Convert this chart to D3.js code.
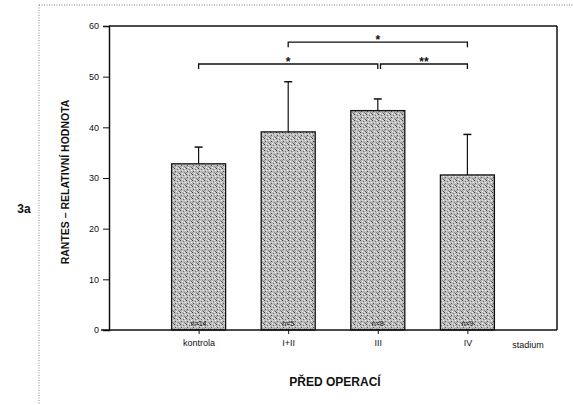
<!DOCTYPE html>
<html><head><meta charset="utf-8">
<script src="https://cdn.jsdelivr.net/npm/d3@7/dist/d3.min.js"></script>
<style>
html,body{margin:0;padding:0;background:#fff;}
svg{display:block;}
text{font-family:"Liberation Sans",Arial,sans-serif;fill:#111;font-stretch:condensed;}
</style></head>
<body><svg id="c" width="573" height="405"></svg>
<script>
const categories = ["kontrola", "I+II", "III", "IV"];
const means = [32.8, 39.1, 43.3, 30.6];
const errTop = [36.1, 49.0, 45.6, 38.6];
const nLabels = ["n=14", "n=5", "n=8", "n=9"];
const yTicks = [0, 10, 20, 30, 40, 50, 60];
const brackets = [
  {from: 1, to: 3, level: 52.5, label: "*"},
  {from: 2, to: 4, level: 56.8, label: "*"},
  {from: 3.03, to: 4, level: 52.5, label: "**"}
];

const FONT = "Liberation Sans, Arial, sans-serif";
const svg = d3.select("#c");
const L = 109, R = 557, T = 26, B = 330;
const x = d3.scaleLinear().domain([0, 5]).range([L, R]);
const y = d3.scaleLinear().domain([0, 60]).range([B, T]);
const bw = 54;

// dotted outer border
svg.append("line").attr("x1", 39).attr("x2", 573).attr("y1", 5).attr("y2", 5)
  .attr("stroke", "#777").attr("stroke-width", 1).attr("stroke-dasharray", "1,1.5");
svg.append("line").attr("x1", 39).attr("x2", 39).attr("y1", 5).attr("y2", 405)
  .attr("stroke", "#888").attr("stroke-width", 1).attr("stroke-dasharray", "1,1.5");

// texture pattern
const defs = svg.append("defs");
const pat = defs.append("pattern").attr("id", "stip").attr("patternUnits", "userSpaceOnUse")
  .attr("width", 6).attr("height", 6);
pat.append("rect").attr("width", 6).attr("height", 6).attr("fill", "#bcbcbc");
const specks = [[0,0,"#444"],[3,1,"#777"],[1,3,"#555"],[4,4,"#888"],[2,5,"#f2f2f2"],[5,2,"#f2f2f2"],[0,4,"#999"],[4,0,"#eee"],[2,2,"#ddd"],[5,5,"#666"]];
specks.forEach(s => pat.append("rect").attr("x", s[0]).attr("y", s[1]).attr("width", 1).attr("height", 1).attr("fill", s[2]));

// frame top & right
svg.append("line").attr("x1", L).attr("x2", R).attr("y1", T).attr("y2", T).attr("stroke", "#111").attr("stroke-width", 1.5);
svg.append("line").attr("x1", R).attr("x2", R).attr("y1", T).attr("y2", B).attr("stroke", "#111").attr("stroke-width", 1.5);

// bars
const g = svg.append("g");
categories.forEach((c, i) => {
  const cx = x(i + 1);
  g.append("rect").attr("x", cx - bw / 2).attr("y", y(means[i])).attr("width", bw)
    .attr("height", y(0) - y(means[i])).attr("fill", "url(#stip)").attr("stroke", "#111").attr("stroke-width", 1.3);
  g.append("line").attr("x1", cx).attr("x2", cx).attr("y1", y(means[i])).attr("y2", y(errTop[i]))
    .attr("stroke", "#111").attr("stroke-width", 1.2);
  g.append("line").attr("x1", cx - 4).attr("x2", cx + 4).attr("y1", y(errTop[i])).attr("y2", y(errTop[i]))
    .attr("stroke", "#111").attr("stroke-width", 1.5);
  g.append("text").attr("x", cx).attr("y", B - 4).attr("text-anchor", "middle")
    .attr("font-size", 7).attr("font-family", FONT).text(nLabels[i]);
});

// y axis
const yAxis = d3.axisLeft(y).tickValues(yTicks).tickSize(6).tickPadding(4).tickFormat(d3.format("d"));
const ya = svg.append("g").attr("transform", `translate(${L},0)`).call(yAxis);
ya.select(".domain").attr("stroke", "#111").attr("stroke-width", 1.5);
ya.selectAll(".tick line").attr("stroke", "#111");
ya.selectAll(".tick text").attr("font-size", 9).attr("font-family", FONT);

// x axis
const xAxis = d3.axisBottom(x).tickValues([1, 2, 3, 4]).tickSize(4).tickPadding(6)
  .tickFormat(d => categories[d - 1]);
const xa = svg.append("g").attr("transform", `translate(0,${B})`).call(xAxis);
xa.select(".domain").remove();
svg.append("line").attr("x1", L - 8).attr("x2", R).attr("y1", B).attr("y2", B).attr("stroke", "#111").attr("stroke-width", 1.5);
xa.selectAll(".tick line").attr("stroke", "#111");
xa.selectAll(".tick text").attr("font-size", 9).attr("font-family", FONT);

svg.append("text").attr("x", 528).attr("y", B + 18).attr("text-anchor", "middle").attr("font-size", 9)
  .attr("font-family", FONT).text("stadium");

// axis titles
svg.append("text").attr("x", 335).attr("y", 386).attr("text-anchor", "middle").attr("font-size", 12)
  .attr("font-family", FONT).attr("font-weight", "bold").text("PŘED OPERACÍ");
svg.append("text").attr("transform", `translate(69,182) rotate(-90)`).attr("text-anchor", "middle")
  .attr("font-size", 10.5).attr("font-family", FONT).attr("font-weight", "bold").text("RANTES – RELATIVNÍ HODNOTA");
svg.append("text").attr("x", 24).attr("y", 213).attr("text-anchor", "middle").attr("font-size", 12)
  .attr("font-family", FONT).attr("font-weight", "bold").text("3a");

// significance brackets
brackets.forEach(b => {
  const x1 = x(b.from), x2 = x(b.to), yy = y(b.level);
  svg.append("path").attr("d", `M${x1},${yy + 5}V${yy}H${x2}V${yy + 5}`)
    .attr("fill", "none").attr("stroke", "#111").attr("stroke-width", 1.3);
  svg.append("text").attr("x", (x1 + x2) / 2).attr("y", yy + 2).attr("text-anchor", "middle")
    .attr("font-size", 12).attr("font-family", FONT).attr("font-weight", "bold").attr("fill", "#111").text(b.label);
});
</script></body></html>
